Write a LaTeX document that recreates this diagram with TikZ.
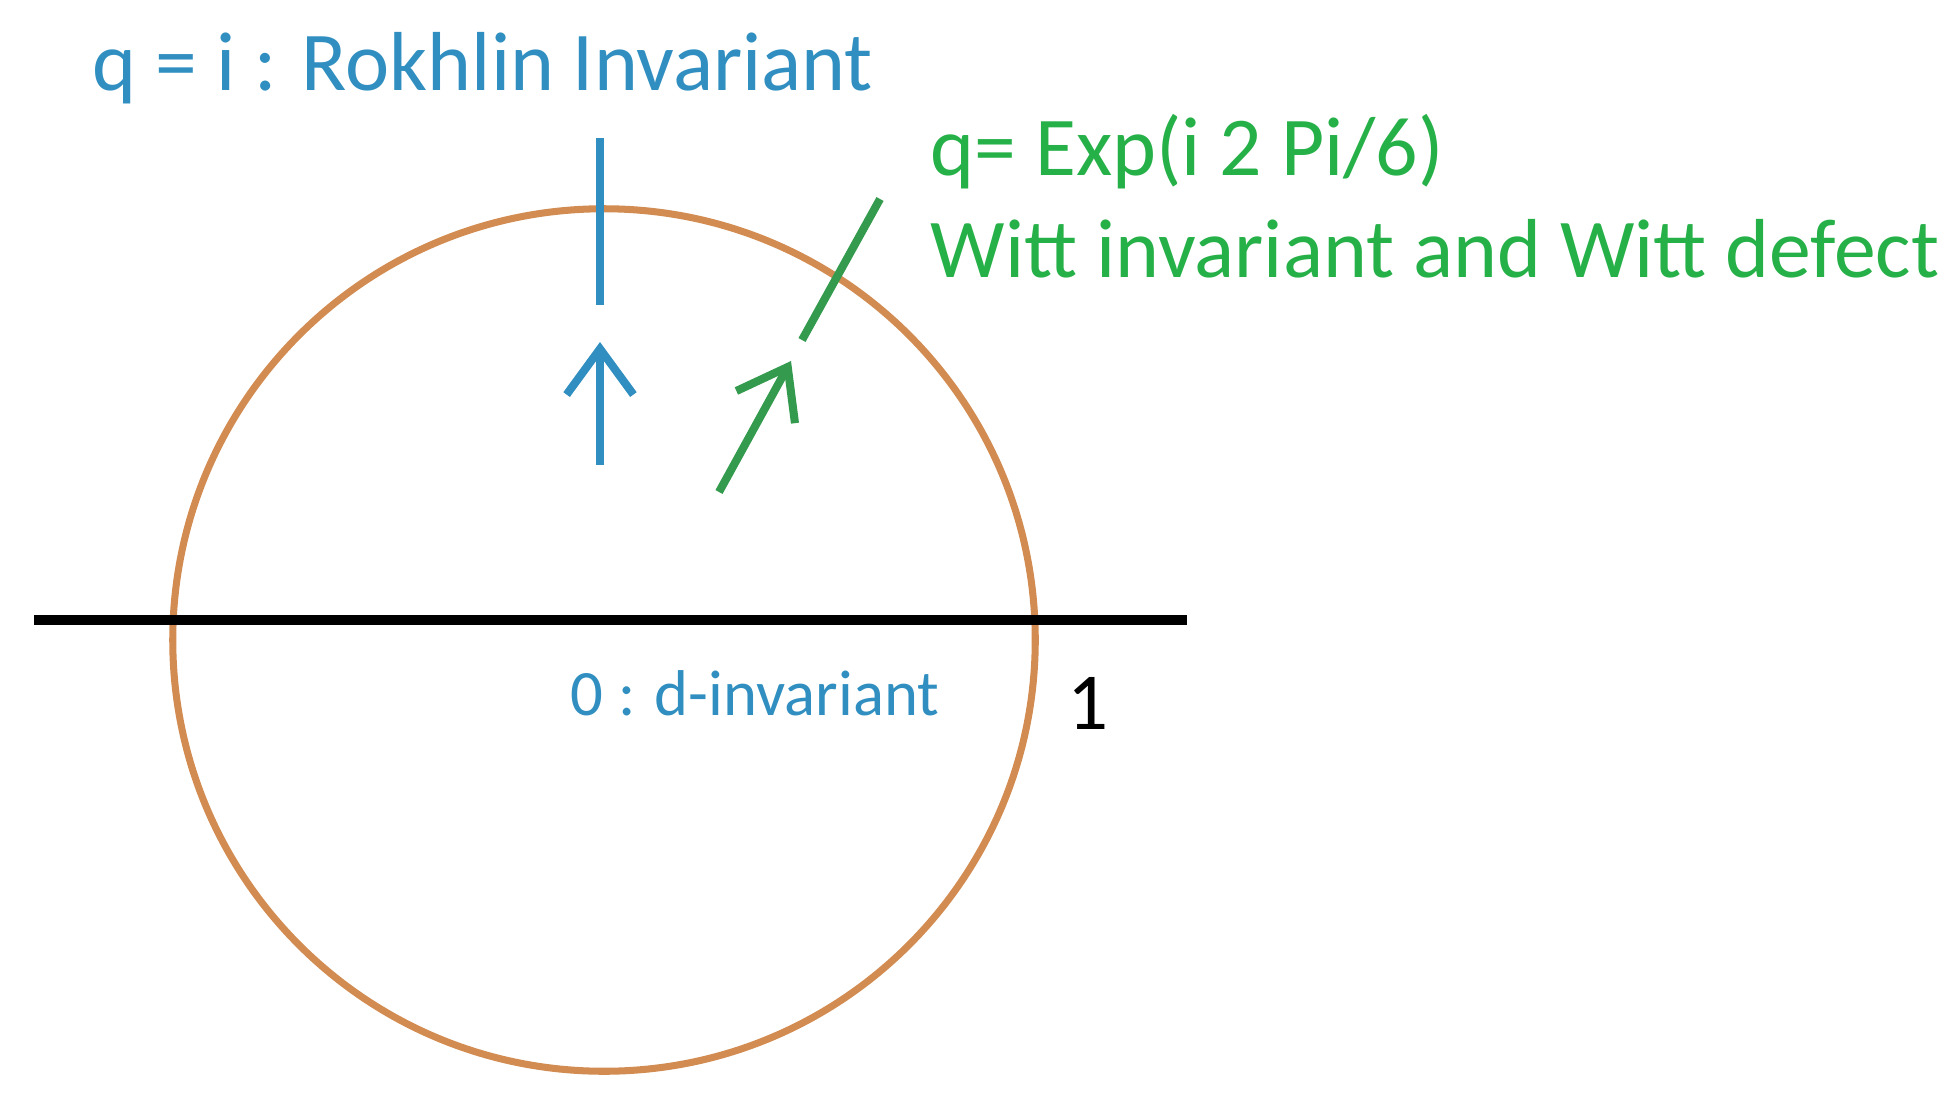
\documentclass[tikz,border=0pt]{standalone}
\usepackage{fontspec}
\setmainfont{Carlito}
\usepackage{xcolor}
\usetikzlibrary{arrows.meta}
\definecolor{rokblue}{RGB}{48,143,192}
\definecolor{wittgreen}{RGB}{38,176,72}
\definecolor{markgreen}{RGB}{52,155,78}
\definecolor{circtan}{RGB}{210,140,82}
\tikzstyle{unitcircle} = [draw=circtan, line width=2pt]
\tikzstyle{realaxis} = [draw=black, line width=3pt]
\tikzstyle{bluemark} = [draw=rokblue, line width=2.3pt]
\tikzstyle{greenmark} = [draw=markgreen, line width=2.3pt]
\tikzstyle{barb} = [-{Straight Barb[length=13pt, width=19pt]}]
\tikzstyle{label} = [inner sep=0, anchor=base west, font=\fontsize{23.8}{28}\selectfont]

\begin{document}
\begin{tikzpicture}[x=0.01cm, y=-0.01cm]
\useasboundingbox (0,0) rectangle (1949,1109);
% circle and real axis
\coordinate (centre) at (604,640);
\draw[unitcircle] (centre) circle [radius=4.31cm];
\coordinate (axisleft) at (34,620);
\coordinate (axisright) at (1187,620);
\draw[realaxis] (axisleft) -- (axisright);
% labels
\node[label, text=rokblue] (rokhlin) at (92,90) {q = i : Rokhlin Invariant};
\node[label, text=wittgreen] (wittq) at (930,175) {q= Exp(i 2 Pi/6)};
\node[label, text=wittgreen] (wittname) at (930,277) {Witt invariant and Witt defect};
\node[label, text=rokblue, font=\fontsize{18.4}{22}\selectfont] (dinv) at (570,715) {0 : d-invariant};
\node[label, text=black, font=\fontsize{23}{26}\selectfont] (one) at (1067,729) {1};
% marks on the circle
\coordinate (itop) at (600,138);
\coordinate (ibottom) at (600,305);
\draw[bluemark] (itop) -- (ibottom);
\coordinate (itail) at (600,465);
\coordinate (ihead) at (600,342);
\draw[bluemark, barb] (itail) -- (ihead);
\coordinate (wtop) at (880,199);
\coordinate (wbottom) at (802,340);
\draw[greenmark] (wtop) -- (wbottom);
\coordinate (wtail) at (719,492);
\coordinate (whead) at (791,361);
\draw[greenmark, barb] (wtail) -- (whead);
\end{tikzpicture}
\end{document}
